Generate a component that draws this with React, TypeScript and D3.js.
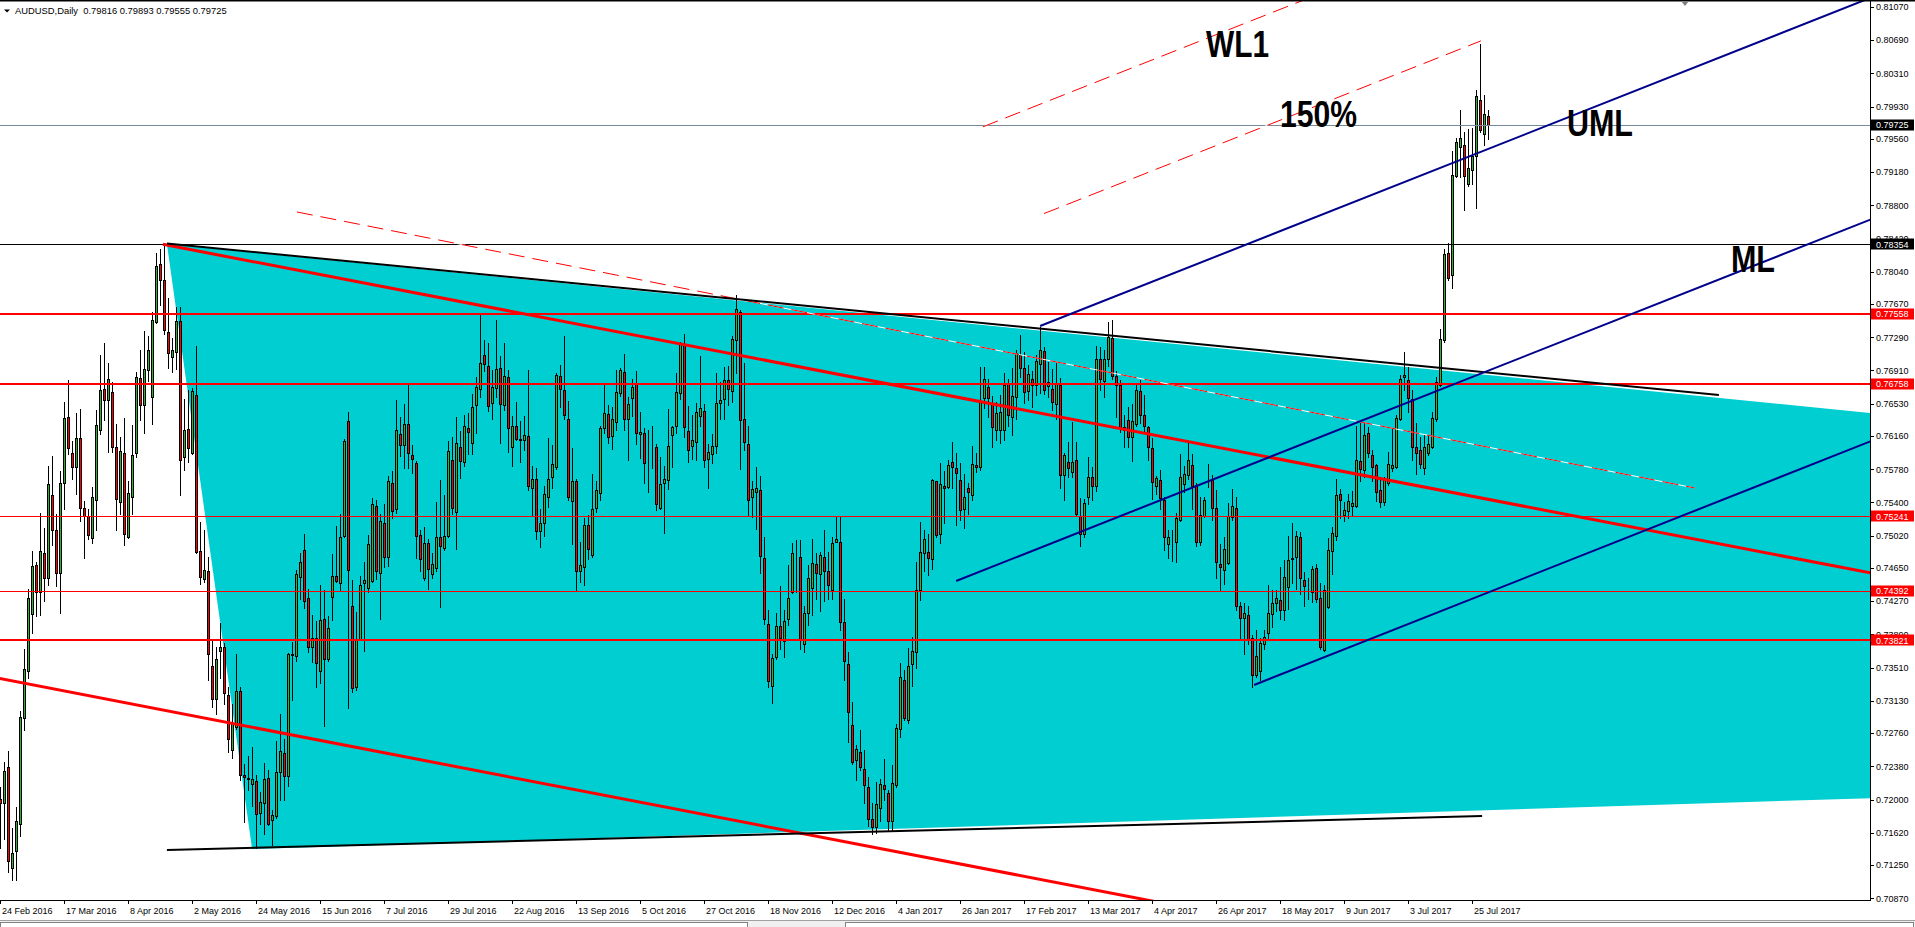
import React from 'react';
import * as d3 from 'd3';

// ---------- DATA (prices in units of 0.0001) ----------
const OPEN = [
7201,7196,7237,7122,7141,7172,7293,7347,7412,7468,
7437,7482,7454,7548,7508,7459,7562,7638,7597,7580,
7614,7534,7525,7499,7543,7623,7670,7657,7666,7603,
7541,7597,7501,7546,7596,7682,7652,7692,7661,7747,
7813,7795,7735,7706,7712,7748,7592,7624,7597,7663,
7484,7452,7462,7353,7315,7370,7374,7320,7257,7283,
7324,7228,7225,7218,7221,7184,7196,7225,7176,7181,
7231,7253,7227,7366,7364,7455,7486,7431,7374,7385,
7347,7407,7361,7432,7456,7448,7502,7633,7421,7329,
7382,7448,7442,7450,7536,7459,7517,7478,7562,7533,
7618,7606,7630,7594,7585,7503,7453,7494,7458,7465,
7500,7488,7502,7589,7529,7604,7586,7625,7608,7652,
7670,7709,7696,7654,7671,7694,7651,7683,7603,7627,
7613,7611,7616,7556,7567,7507,7516,7546,7569,7581,
7685,7669,7636,7542,7564,7462,7466,7514,7480,7534,
7551,7625,7641,7616,7632,7665,7689,7635,7660,7675,
7618,7619,7585,7607,7604,7534,7562,7566,7617,7627,
7665,7721,7622,7605,7609,7639,7645,7590,7595,7605,
7654,7658,7680,7668,7726,7758,7635,7607,7546,7552,
7554,7476,7401,7330,7363,7399,7381,7407,7438,7481,
7478,7378,7413,7442,7470,7458,7478,7461,7440,7495,
7495,7403,7355,7285,7245,7254,7235,7214,7178,7168,
7190,7217,7207,7175,7217,7281,7337,7291,7355,7369,
7440,7482,7483,7475,7564,7504,7559,7558,7586,7579,
7566,7533,7556,7548,7583,7580,7659,7672,7653,7623,
7623,7623,7677,7638,7661,7709,7694,7668,7681,7674,
7698,7713,7673,7670,7653,7674,7571,7586,7575,7589,
7524,7504,7546,7569,7559,7704,7679,7704,7728,7685,
7674,7626,7634,7615,7630,7667,7640,7626,7602,7559,
7566,7543,7492,7498,7495,7520,7561,7571,7583,7560,
7495,7524,7569,7566,7534,7470,7463,7471,7523,7534,
7422,7408,7411,7385,7342,7347,7378,7390,7412,7425,
7428,7417,7443,7475,7478,7501,7451,7438,7438,7465,
7431,7371,7420,7484,7502,7550,7526,7530,7536,7536,
7587,7577,7619,7594,7583,7554,7540,7562,7579,7580,
7635,7683,7680,7658,7603,7600,7579,7597,7603,7635,
7674,7726,7826,7800,7914,7947,7949,7904,7921,7937,
8000,7962,7982];
const HIGH = [
7214,7243,7256,7167,7192,7301,7372,7441,7484,7472,
7528,7511,7582,7593,7527,7576,7655,7680,7610,7642,
7647,7542,7533,7558,7646,7709,7722,7699,7678,7630,
7615,7637,7564,7629,7689,7715,7736,7730,7758,7825,
7830,7835,7774,7728,7764,7764,7658,7669,7671,7719,
7518,7508,7477,7384,7375,7402,7379,7329,7309,7366,
7329,7241,7250,7260,7228,7209,7242,7234,7188,7267,
7298,7269,7368,7380,7463,7482,7504,7441,7411,7404,
7445,7440,7410,7481,7513,7527,7613,7643,7451,7415,
7456,7472,7503,7545,7543,7527,7538,7570,7576,7657,
7638,7653,7676,7606,7587,7508,7512,7498,7482,7541,
7566,7548,7610,7615,7638,7622,7640,7642,7664,7683,
7756,7726,7723,7691,7749,7708,7722,7691,7639,7655,
7633,7639,7691,7582,7579,7532,7559,7614,7606,7688,
7697,7731,7656,7602,7567,7495,7522,7526,7572,7564,
7628,7674,7652,7649,7692,7694,7710,7661,7681,7690,
7644,7625,7623,7628,7607,7592,7582,7647,7628,7688,
7724,7733,7650,7640,7654,7708,7653,7607,7618,7688,
7678,7695,7696,7730,7777,7760,7700,7627,7565,7581,
7570,7501,7417,7367,7414,7444,7417,7468,7493,7497,
7497,7421,7468,7498,7482,7483,7508,7483,7500,7523,
7523,7430,7369,7312,7262,7279,7257,7226,7196,7220,
7223,7246,7211,7240,7286,7356,7348,7373,7386,7472,
7518,7508,7504,7567,7565,7585,7576,7588,7609,7597,
7585,7572,7562,7605,7596,7695,7695,7681,7662,7655,
7663,7688,7681,7694,7714,7732,7712,7697,7690,7709,
7741,7718,7701,7693,7699,7682,7596,7609,7632,7609,
7545,7544,7592,7581,7719,7718,7714,7747,7749,7690,
7680,7640,7649,7653,7674,7680,7663,7627,7614,7570,
7577,7546,7508,7508,7528,7595,7582,7610,7595,7562,
7546,7546,7584,7571,7554,7492,7500,7539,7555,7546,
7426,7425,7422,7388,7394,7385,7394,7445,7440,7440,
7466,7474,7502,7516,7507,7506,7460,7453,7467,7469,
7448,7446,7499,7512,7567,7555,7541,7550,7553,7628,
7631,7631,7626,7600,7584,7569,7569,7598,7625,7640,
7686,7712,7695,7669,7631,7615,7617,7617,7643,7684,
7739,7830,7837,7942,7957,7989,7964,7967,7969,8012,
8065,8006,7989];
const LOW = [
7145,7155,7117,7108,7108,7158,7280,7339,7391,7410,
7411,7427,7446,7491,7444,7413,7532,7595,7567,7550,
7519,7476,7498,7493,7509,7618,7634,7598,7598,7509,
7527,7491,7499,7527,7592,7634,7619,7679,7630,7745,
7766,7733,7694,7689,7693,7548,7577,7586,7595,7482,
7447,7449,7337,7306,7298,7339,7309,7254,7248,7281,
7222,7174,7211,7193,7144,7172,7161,7171,7148,7179,
7199,7200,7216,7314,7359,7430,7419,7369,7357,7329,
7333,7284,7359,7405,7449,7440,7501,7305,7323,7325,
7382,7370,7437,7449,7452,7407,7466,7467,7522,7528,
7593,7579,7579,7574,7476,7461,7451,7441,7454,7462,
7420,7485,7501,7527,7487,7568,7582,7595,7595,7620,
7661,7690,7645,7636,7661,7608,7646,7598,7582,7611,
7586,7600,7554,7524,7498,7489,7502,7535,7557,7578,
7649,7635,7543,7492,7440,7449,7445,7475,7478,7529,
7543,7620,7608,7601,7623,7662,7623,7588,7639,7607,
7591,7562,7552,7579,7531,7533,7505,7555,7580,7620,
7658,7615,7586,7590,7588,7627,7581,7557,7585,7597,
7636,7636,7651,7655,7688,7578,7600,7525,7523,7510,
7459,7401,7329,7310,7361,7372,7363,7400,7436,7438,
7372,7369,7400,7411,7430,7416,7427,7430,7430,7495,
7394,7337,7266,7241,7222,7234,7196,7170,7160,7162,
7175,7200,7165,7165,7214,7272,7291,7288,7330,7350,
7428,7462,7457,7464,7501,7493,7516,7556,7556,7514,
7520,7511,7527,7543,7575,7577,7648,7638,7604,7611,
7608,7611,7628,7617,7636,7684,7654,7657,7649,7663,
7665,7664,7661,7646,7636,7557,7543,7569,7569,7524,
7490,7501,7538,7543,7553,7669,7661,7696,7681,7638,
7621,7603,7604,7587,7627,7631,7621,7589,7544,7550,
7532,7486,7476,7473,7472,7519,7552,7567,7533,7490,
7491,7523,7558,7520,7454,7439,7447,7470,7520,7417,
7382,7367,7378,7329,7340,7337,7372,7382,7398,7416,
7407,7405,7418,7448,7441,7435,7421,7430,7426,7426,
7372,7370,7419,7458,7497,7522,7519,7522,7525,7535,
7564,7569,7592,7564,7542,7535,7537,7560,7576,7579,
7634,7669,7644,7589,7572,7579,7572,7594,7602,7633,
7673,7724,7795,7785,7913,7913,7875,7902,7904,7877,
7964,7949,7956];
const CLOSE = [
7196,7233,7130,7139,7175,7295,7349,7431,7467,7438,
7484,7453,7561,7508,7459,7562,7637,7602,7580,7614,
7534,7525,7503,7546,7629,7669,7657,7681,7604,7544,
7599,7504,7551,7594,7683,7651,7693,7715,7749,7811,
7794,7737,7711,7714,7748,7589,7623,7602,7668,7483,
7455,7463,7367,7315,7361,7374,7322,7269,7288,7324,
7228,7226,7223,7223,7183,7197,7224,7172,7182,7232,
7255,7227,7366,7365,7458,7472,7427,7375,7385,7356,
7406,7361,7396,7456,7450,7500,7610,7463,7328,7382,
7446,7451,7492,7538,7461,7519,7478,7564,7530,7623,
7606,7630,7597,7590,7502,7475,7493,7464,7469,7501,
7490,7502,7599,7534,7608,7587,7627,7621,7649,7672,
7700,7698,7650,7672,7693,7653,7685,7625,7627,7613,
7612,7617,7559,7567,7507,7516,7550,7567,7584,7686,
7670,7640,7546,7564,7462,7468,7514,7487,7533,7554,
7625,7642,7615,7635,7666,7691,7635,7653,7672,7619,
7621,7585,7585,7607,7538,7561,7567,7605,7626,7666,
7722,7626,7600,7611,7644,7648,7589,7598,7605,7654,
7657,7680,7670,7727,7761,7634,7609,7543,7555,7557,
7479,7407,7336,7362,7399,7385,7404,7431,7482,7481,
7382,7413,7453,7471,7459,7480,7462,7446,7494,7498,
7403,7358,7300,7243,7258,7237,7217,7178,7168,7195,
7218,7212,7175,7219,7282,7340,7293,7353,7370,7440,
7483,7498,7476,7566,7503,7561,7556,7583,7580,7574,
7531,7546,7552,7584,7581,7656,7681,7659,7626,7642,
7644,7674,7640,7662,7711,7694,7666,7687,7674,7702,
7714,7669,7678,7655,7675,7571,7594,7579,7586,7527,
7504,7539,7569,7559,7704,7681,7704,7729,7685,7674,
7625,7623,7615,7633,7669,7640,7627,7604,7563,7568,
7545,7500,7501,7498,7522,7569,7573,7589,7559,7495,
7526,7543,7569,7534,7472,7466,7487,7524,7536,7421,
7408,7414,7383,7343,7364,7379,7386,7413,7425,7431,
7417,7455,7474,7476,7502,7453,7444,7438,7464,7429,
7375,7440,7485,7505,7549,7543,7531,7542,7539,7588,
7578,7617,7597,7580,7552,7540,7567,7584,7583,7637,
7681,7686,7660,7603,7597,7584,7603,7607,7637,7678,
7727,7824,7797,7915,7953,7957,7914,7923,7937,8005,
7966,7984,7972];
const PIP = 10000;

const SYMBOL = 'AUDUSD,Daily';
const QUOTE = ['0.79816', '0.79893', '0.79555', '0.79725'];

const X_LABELS = ['24 Feb 2016', '17 Mar 2016', '8 Apr 2016', '2 May 2016', '24 May 2016', '15 Jun 2016',
  '7 Jul 2016', '29 Jul 2016', '22 Aug 2016', '13 Sep 2016', '5 Oct 2016', '27 Oct 2016', '18 Nov 2016',
  '12 Dec 2016', '4 Jan 2017', '26 Jan 2017', '17 Feb 2017', '13 Mar 2017', '4 Apr 2017', '26 Apr 2017',
  '18 May 2017', '9 Jun 2017', '3 Jul 2017', '25 Jul 2017'];
const BARS_PER_LABEL = 16;

const Y_TICKS = [0.81070, 0.80690, 0.80310, 0.79930, 0.79560, 0.79180, 0.78800, 0.78420, 0.78040, 0.77670,
  0.77290, 0.76910, 0.76530, 0.76160, 0.75780, 0.75400, 0.75020, 0.74650, 0.74270, 0.73890, 0.73510,
  0.73130, 0.72760, 0.72380, 0.72000, 0.71620, 0.71250, 0.70870];

const BID = 0.79725;
const BLACK_LEVELS = [0.78354];
const RED_LEVELS = [0.77558, 0.76758, 0.75241, 0.74392, 0.73821];
const RED_LEVEL_HEAVY = [true, true, false, false, true];

// drawn objects, anchored at [bar index, price]
const ZONE = [[41.6, 0.78358], [467.4, 0.76424], [467.4, 0.72015], [62.9, 0.71434]];
const TOP_TREND = [[41.6, 0.78363], [429.6, 0.76630]];
const BOTTOM_TREND = [[41.6, 0.71422], [370.4, 0.71812]];
const CHANNEL_UPPER = [[40.6, 0.78354], [467.4, 0.74594]];
const CHANNEL_LOWER = [[-0.125, 0.73384], [286.6, 0.70850]];
const CHANNEL_MID = [[74.1, 0.78724], [423.6, 0.75565]];
const PITCHFORK = [[238.9, 0.74501], [259.9, 0.77419], [313.4, 0.73311]];
const WARNING_MULT = [1.5, 2.0];
const WARNING_FROM = [260.9, 245.6];
const WARNING_TO = [370.1, 480];
const NOTES = [
  { text: 'WL1', i: 301.4, p: 0.80498, len: 63 },
  { text: '150%', i: 319.9, p: 0.79691, len: 77 },
  { text: 'UML', i: 391.6, p: 0.79594, len: 66 },
  { text: 'ML', i: 432.6, p: 0.78037, len: 44 },
];

// ---------- CHART ----------
const W = 1915, H = 927;
const PR = 1870, PB = 900;
const FONT = '"Liberation Sans", Arial, sans-serif';

export default function App() {
  const xs = d3.scaleLinear().domain([0, 1]).range([0.5, 4.5]);
  const ys = d3.scaleLinear().domain([0.7085, 0.8115]).range([PB, 0]);

  const lineAt = (a: number[], b: number[]) => (i: number) => a[1] + ((b[1] - a[1]) / (b[0] - a[0])) * (i - a[0]);
  const seg = (f: (i: number) => number, i0: number, i1: number) => ({ x1: xs(i0), y1: ys(f(i0)), x2: xs(i1), y2: ys(f(i1)) });

  const [P0, P1, P2] = PITCHFORK;
  const M = [(P1[0] + P2[0]) / 2, (P1[1] + P2[1]) / 2];
  const slope = (M[1] - P0[1]) / (M[0] - P0[0]);
  const ml = (i: number) => P0[1] + slope * (i - P0[0]);
  const uml = (i: number) => P1[1] + slope * (i - P1[0]);
  const lml = (i: number) => P2[1] + slope * (i - P2[0]);
  const width = uml(0) - ml(0);

  const zonePath = d3.line<number[]>().x(d => xs(d[0])).y(d => ys(d[1]))(ZONE) + 'Z';

  const n = CLOSE.length;
  const candles = d3.range(n).map(i => {
    const o = OPEN[i] / PIP, c = CLOSE[i] / PIP, h = HIGH[i] / PIP, l = LOW[i] / PIP;
    const x = xs(i);
    const top = Math.round(ys(Math.max(o, c))) + 0.5;
    const bot = Math.round(ys(Math.min(o, c))) + 0.5;
    return (
      <g key={i}>
        <line x1={x} x2={x} y1={Math.round(ys(h))} y2={Math.round(ys(l)) + 1} stroke="#000" strokeWidth={1} />
        <rect x={x - 1} y={top} width={2} height={Math.max(bot - top, 0)} fill={c >= o ? '#2db32d' : '#ff0000'} stroke="#000" strokeWidth={1} />
      </g>
    );
  });

  const hline = (p: number, color: string, w: number, key: string) => {
    const y = w % 2 === 1 ? Math.round(ys(p)) + 0.5 : Math.round(ys(p));
    return <line key={key} x1={0} x2={PR} y1={y} y2={y} stroke={color} strokeWidth={w} />;
  };

  const dashed = (s: { x1: number; y1: number; x2: number; y2: number }, key: string) => (
    <g key={key}>
      <line {...s} stroke="#fff" strokeWidth={1} />
      <line {...s} stroke="#ff0000" strokeWidth={1} strokeDasharray="16,8" />
    </g>
  );

  const badge = (p: number, bg: string, key: string) => {
    const y = ys(p);
    return (
      <g key={key}>
        <rect x={1871} y={Math.round(y) - 5.5} width={43} height={11} fill={bg} />
        <text x={1876} y={y + 3.3} fill="#fff" fontSize={9} fontFamily={FONT}>{p.toFixed(5)}</text>
      </g>
    );
  };

  return (
    <svg width={W} height={H} style={{ position: 'fixed', left: 0, top: 0, background: '#fff' }}>
      <defs>
        <clipPath id="plot"><rect x={0} y={1} width={PR} height={PB - 1} /></clipPath>
      </defs>
      <rect x={0} y={0} width={W} height={H} fill="#fff" />

      <g clipPath="url(#plot)">
        <path d={zonePath} fill="#00ced1" />
        {candles}
        {hline(BID, '#778899', 1, 'bid')}
        {BLACK_LEVELS.map((p, k) => hline(p, '#000', 1, 'bl' + k))}
        {RED_LEVELS.map((p, k) => hline(p, '#ff0000', RED_LEVEL_HEAVY[k] ? 2 : 1, 'rl' + k))}
        {dashed(seg(lineAt(CHANNEL_MID[0], CHANNEL_MID[1]), CHANNEL_MID[0][0], CHANNEL_MID[1][0]), 'mid')}
        <line {...seg(lineAt(CHANNEL_UPPER[0], CHANNEL_UPPER[1]), CHANNEL_UPPER[0][0], 480)} stroke="#ff0000" strokeWidth={3} />
        <line {...seg(lineAt(CHANNEL_LOWER[0], CHANNEL_LOWER[1]), -10, 480)} stroke="#ff0000" strokeWidth={3} />
        <line {...seg(lineAt(TOP_TREND[0], TOP_TREND[1]), TOP_TREND[0][0], TOP_TREND[1][0])} stroke="#000" strokeWidth={2} />
        <line {...seg(lineAt(BOTTOM_TREND[0], BOTTOM_TREND[1]), BOTTOM_TREND[0][0], BOTTOM_TREND[1][0])} stroke="#000" strokeWidth={2} />
        <line {...seg(ml, P0[0], 480)} stroke="#00008b" strokeWidth={2} />
        <line {...seg(uml, P1[0], 480)} stroke="#00008b" strokeWidth={2} />
        <line {...seg(lml, P2[0], 480)} stroke="#00008b" strokeWidth={2} />
        {WARNING_MULT.map((m, k) => dashed(seg((i: number) => ml(i) + m * width, WARNING_FROM[k], WARNING_TO[k]), 'w' + k))}
        {NOTES.map(nt => (
          <text key={nt.text} x={xs(nt.i)} y={ys(nt.p)} fontSize={36} fontWeight="bold" fontFamily={FONT}
            textLength={nt.len} lengthAdjust="spacingAndGlyphs" fill="#000">{nt.text}</text>
        ))}
      </g>

      {/* axes */}
      <line x1={PR + 0.5} x2={PR + 0.5} y1={0} y2={PB + 1} stroke="#000" />
      <line x1={0} x2={PR + 1} y1={PB + 0.5} y2={PB + 0.5} stroke="#000" />
      {Y_TICKS.map(v => {
        const y = ys(v);
        return (
          <g key={v}>
            <line x1={PR} x2={PR + 4} y1={Math.round(y) + 0.5} y2={Math.round(y) + 0.5} stroke="#000" />
            <text x={1876} y={y + 3.3} fontSize={9} fontFamily={FONT} fill="#000">{v.toFixed(5)}</text>
          </g>
        );
      })}
      {badge(BID, '#000', 'b-bid')}
      {BLACK_LEVELS.map((p, k) => badge(p, '#000', 'bb' + k))}
      {RED_LEVELS.map((p, k) => badge(p, '#ff0000', 'rb' + k))}
      {X_LABELS.map((lab, k) => {
        const x = xs(k * BARS_PER_LABEL) - 0.5;
        return (
          <g key={lab}>
            <line x1={x + 0.5} x2={x + 0.5} y1={PB} y2={PB + 4} stroke="#000" />
            <text x={x + 2} y={913.5} fontSize={9} fontFamily={FONT} fill="#000">{lab}</text>
          </g>
        );
      })}

      {/* header */}
      <rect x={0} y={0} width={W} height={1.5} fill="#000" />
      <polygon points="4,9.5 10,9.5 7,12.5" fill="#000" />
      <text x={15} y={13.5} fontSize={9.4} fontFamily={FONT} fill="#000" style={{ whiteSpace: 'pre' }}>
        {SYMBOL + '  ' + QUOTE.join(' ')}
      </text>
      <polygon points="1681,1 1689,1 1685,6" fill="#808080" />

      {/* bottom tab strip */}
      <rect x={0} y={920} width={W} height={7} fill="#f0f0f0" />
      <line x1={0} x2={W} y1={920.5} y2={920.5} stroke="#a0a0a0" />
      <rect x={0.5} y={922.5} width={747} height={6} fill="#fff" stroke="#808080" />
      <rect x={845.5} y={922.5} width={1068} height={6} fill="#fff" stroke="#808080" />
    </svg>
  );
}
